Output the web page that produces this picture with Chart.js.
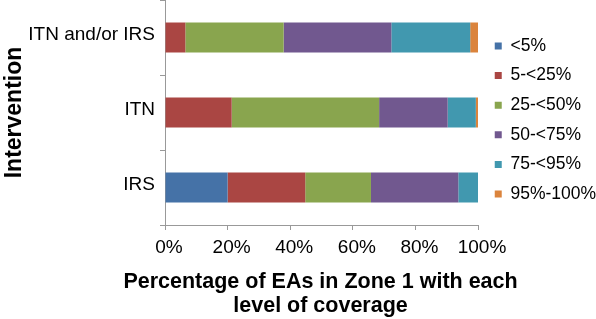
<!DOCTYPE html>
<html>
<head>
<meta charset="utf-8">
<script src="https://cdn.jsdelivr.net/npm/chart.js@4.4.1/dist/chart.umd.min.js"></script>
<style>
html,body{margin:0;padding:0;background:#fff;}
#wrap{width:596px;height:319px;position:relative;}
</style>
</head>
<body>
<div id="wrap"><canvas id="c" width="596" height="319"></canvas></div>
<script>
const categories = ['ITN and/or IRS', 'ITN', 'IRS'];
const seriesNames = ['<5%', '5-<25%', '25-<50%', '50-<75%', '75-<95%', '95%-100%'];
const lt5      = [0,    0,    20.0];
const s5to25   = [6.5,  21.3, 24.8];
const s25to50  = [31.4, 47.1, 21.0];
const s50to75  = [34.4, 21.9, 27.9];
const s75to95  = [25.2, 9.0,  6.3];
const s95to100 = [2.5,  0.7,  0];
const xTicks = [0, 20, 40, 60, 80, 100];
const xTitleLines = ['Percentage of EAs in Zone 1 with each', 'level of coverage'];
const yTitle = 'Intervention';

const seriesValues = [lt5, s5to25, s25to50, s50to75, s75to95, s95to100];
const colors = ['#4572A7', '#AA4643', '#89A54E', '#71588F', '#4198AF', '#DB843D'];

const datasets = seriesNames.map((name, i) => ({
  label: name,
  data: seriesValues[i],
  backgroundColor: colors[i],
  borderWidth: 0,
  barPercentage: 0.4,
  categoryPercentage: 1.0
}));

const FONT_FAMILY = '"Liberation Sans", Arial, sans-serif';

// adjust legend box width / drawing offset
const LEGEND_WIDTH_ADJ = -5.5;
const LEGEND_DRAW_SHIFT = 4.6;
const legendGap = {
  id: 'legendGap',
  beforeLayout(chart) {
    const lg = chart.legend;
    if (lg && !lg.__gapPatched) {
      const origFit = lg.fit;
      lg.fit = function () { origFit.call(this); this.width += LEGEND_WIDTH_ADJ; };
      const origDraw = lg.draw;
      lg.draw = function () {
        this.left += LEGEND_DRAW_SHIFT;
        origDraw.apply(this, arguments);
        this.left -= LEGEND_DRAW_SHIFT;
      };
      lg.__gapPatched = true;
    }
  }
};

// x-axis title drawn without width compression (it is wider than the plot)
const wideXTitle = {
  id: 'wideXTitle',
  afterDraw(chart) {
    const ctx = chart.ctx;
    const area = chart.chartArea;
    const xScale = chart.scales.x;
    const lh = 24;
    const n = xTitleLines.length;
    ctx.save();
    ctx.font = 'bold 21.5px ' + FONT_FAMILY;
    ctx.fillStyle = '#000';
    ctx.textAlign = 'center';
    ctx.textBaseline = 'middle';
    const cx = (area.left + area.right) / 2 - 1;
    xTitleLines.forEach((line, i) => {
      const y = xScale.bottom - 1 - lh / 2 - lh * (n - 1 - i);
      ctx.fillText(line, cx, y);
    });
    ctx.restore();
  }
};

Chart.defaults.font.family = FONT_FAMILY;
Chart.defaults.color = '#000';

new Chart(document.getElementById('c'), {
  type: 'bar',
  data: { labels: categories, datasets },
  plugins: [legendGap, wideXTitle],
  options: {
    indexAxis: 'y',
    responsive: false,
    animation: false,
    layout: { padding: 0 },
    plugins: {
      tooltip: { enabled: false },
      legend: {
        position: 'right',
        align: 'center',
        fullSize: false,
        title: { display: true, text: '', padding: 0, font: { size: 10, lineHeight: 1.5 } },
        labels: {
          boxWidth: 7,
          boxHeight: 7,
          padding: 12.1,
          font: { size: 17.5 },
          color: '#000'
        }
      }
    },
    scales: {
      x: {
        stacked: true,
        min: 0,
        max: 100,
        afterBuildTicks: (scale) => { scale.ticks = xTicks.map(v => ({ value: v })); },
        afterFit: (scale) => { scale.height = 94; scale.paddingLeft = 0; scale.paddingRight = 0; },
        ticks: {
          font: { size: 19 },
          color: '#000',
          padding: 6,
          labelOffset: 4,
          callback: (v) => v + '%'
        },
        grid: {
          drawOnChartArea: false,
          drawTicks: true,
          tickLength: 5,
          color: '#999'
        },
        border: { color: '#999', width: 1 },
        title: { display: false }
      },
      y: {
        stacked: true,
        afterFit: (scale) => { scale.width = 165; scale.paddingTop = 0; scale.paddingBottom = 0; },
        ticks: {
          font: { size: 19 },
          color: '#000',
          padding: 5,
          labelOffset: -3
        },
        grid: {
          offset: true,
          drawOnChartArea: false,
          drawTicks: true,
          tickLength: 5,
          color: '#999'
        },
        border: { color: '#999', width: 1 },
        title: {
          display: true,
          text: yTitle,
          font: { size: 23, weight: 'bold', lineHeight: 1.2 },
          color: '#000',
          padding: { top: 1, bottom: 0 }
        }
      }
    }
  }
});
</script>
</body>
</html>
